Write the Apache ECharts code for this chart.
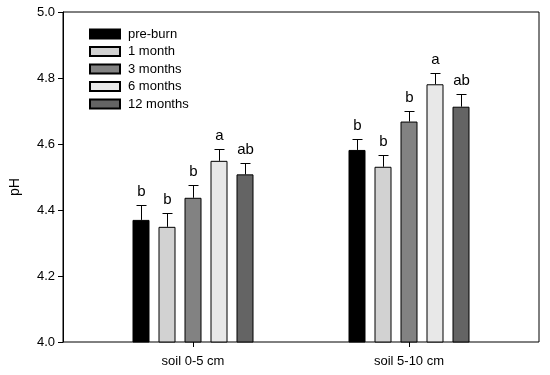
<!DOCTYPE html>
<html>
<head>
<meta charset="utf-8">
<script src="https://cdn.jsdelivr.net/npm/echarts@6/dist/echarts.min.js"></script>
<style>html,body{margin:0;padding:0;background:#fff}#c{width:550px;height:375px}</style>
</head>
<body>
<div id="c"></div>
<script>
var categories = ['soil 0-5 cm', 'soil 5-10 cm'];
var seriesNames = ['pre-burn', '1 month', '3 months', '6 months', '12 months'];
var preBurn = [4.370, 4.582];
var oneMonth = [4.349, 4.531];
var threeMonths = [4.437, 4.668];
var sixMonths = [4.549, 4.781];
var twelveMonths = [4.508, 4.713];
var preBurnErr = [0.046, 0.033];
var oneMonthErr = [0.042, 0.036];
var threeMonthsErr = [0.038, 0.033];
var sixMonthsErr = [0.036, 0.033];
var twelveMonthsErr = [0.033, 0.039];
var letters0 = ['b', 'b', 'b', 'a', 'ab'];
var letters1 = ['b', 'b', 'b', 'a', 'ab'];
var yTicks = [4.0, 4.2, 4.4, 4.6, 4.8, 5.0];

var means = [preBurn, oneMonth, threeMonths, sixMonths, twelveMonths];
var errs = [preBurnErr, oneMonthErr, threeMonthsErr, sixMonthsErr, twelveMonthsErr];
var letters = [letters0, letters1];
var colors = ['#000000', '#d2d2d2', '#828282', '#e8e8e8', '#646464'];
var FONT = 'Liberation Sans, Arial, sans-serif';

var errData = [];
var errLetters = [];
for (var c = 0; c < categories.length; c++) {
  for (var s = 0; s < means.length; s++) {
    errData.push([c, s, means[s][c], means[s][c] + errs[s][c]]);
    errLetters.push(letters[c][s]);
  }
}

var BAR_W = 17, STEP = 26;
var series = means.map(function (arr, i) {
  return {
    name: seriesNames[i], type: 'bar', xAxisIndex: 1, yAxisIndex: 1,
    data: arr, barWidth: BAR_W, barGap: ((STEP - BAR_W) / BAR_W * 100) + '%',
    itemStyle: { color: colors[i], borderColor: '#000', borderWidth: 1 },
    silent: true, animation: false
  };
});
series.push({
  type: 'custom', xAxisIndex: 1, yAxisIndex: 1, data: errData,
  encode: { x: 0, y: 2 }, animation: false, silent: true, z: 5,
  renderItem: function (params, api) {
    var cat = api.value(0), si = api.value(1);
    var base = api.coord([cat, api.value(2)]);
    var top = api.coord([cat, api.value(3)]);
    var x = Math.round(base[0] + (si - 2) * STEP) + 0.5;
    var y0 = base[1], y1 = Math.round(top[1]) + 0.5;
    return {
      type: 'group', children: [
        { type: 'line', shape: { x1: x, y1: y0, x2: x, y2: y1 }, style: { stroke: '#000', lineWidth: 1 } },
        { type: 'line', shape: { x1: x - 5, y1: y1, x2: x + 5, y2: y1 }, style: { stroke: '#000', lineWidth: 1 } },
        { type: 'text', style: { text: errLetters[params.dataIndex], x: x, y: y1 - 6, align: 'center', verticalAlign: 'bottom', fontSize: 15, fontFamily: FONT, fill: '#000' } }
      ]
    };
  }
});

var chart = echarts.init(document.getElementById('c'));
chart.setOption({
  backgroundColor: '#fff',
  animation: false,
  textStyle: { fontFamily: FONT },
  legend: {
    orient: 'vertical', left: 84, top: 22, itemWidth: 30, itemHeight: 9, itemGap: 3.5,
    icon: 'rect',
    data: seriesNames,
    textStyle: { fontSize: 13, color: '#000', fontFamily: FONT, lineHeight: 14, padding: [0, 0, 0, 3] },
    selectedMode: false
  },
  grid: [
    { left: 63, right: 11, top: 12, bottom: 33, show: true, borderColor: '#000', borderWidth: 1, backgroundColor: 'transparent' },
    { left: 85, right: 33, top: 12, bottom: 33 }
  ],
  xAxis: [
    { type: 'value', gridIndex: 0, min: 0, max: 1, show: false },
    {
      type: 'category', gridIndex: 1, data: categories,
      axisLine: { show: false },
      axisTick: { show: true, alignWithLabel: true, length: 5, lineStyle: { color: '#000' } },
      axisLabel: { color: '#000', fontSize: 13, margin: 13, fontFamily: FONT }
    }
  ],
  yAxis: [
    {
      type: 'value', gridIndex: 0, min: 4.0, max: 5.0, interval: 0.2,
      name: 'pH', nameLocation: 'middle', nameGap: 41, nameRotate: 90,
      nameTextStyle: { fontSize: 14, color: '#000', fontFamily: FONT, padding: [0, 20, 0, 0] },
      axisLine: { show: true, lineStyle: { color: '#000' } },
      axisTick: { show: true, length: 5, lineStyle: { color: '#000' } },
      splitLine: { show: false },
      axisLabel: { color: '#000', fontSize: 13, margin: 8, fontFamily: FONT,
        formatter: function (v) { return v.toFixed(1); } },
      customValues: yTicks
    },
    { type: 'value', gridIndex: 1, min: 4.0, max: 5.0, show: false }
  ],
  series: series
});
</script>
</body>
</html>
